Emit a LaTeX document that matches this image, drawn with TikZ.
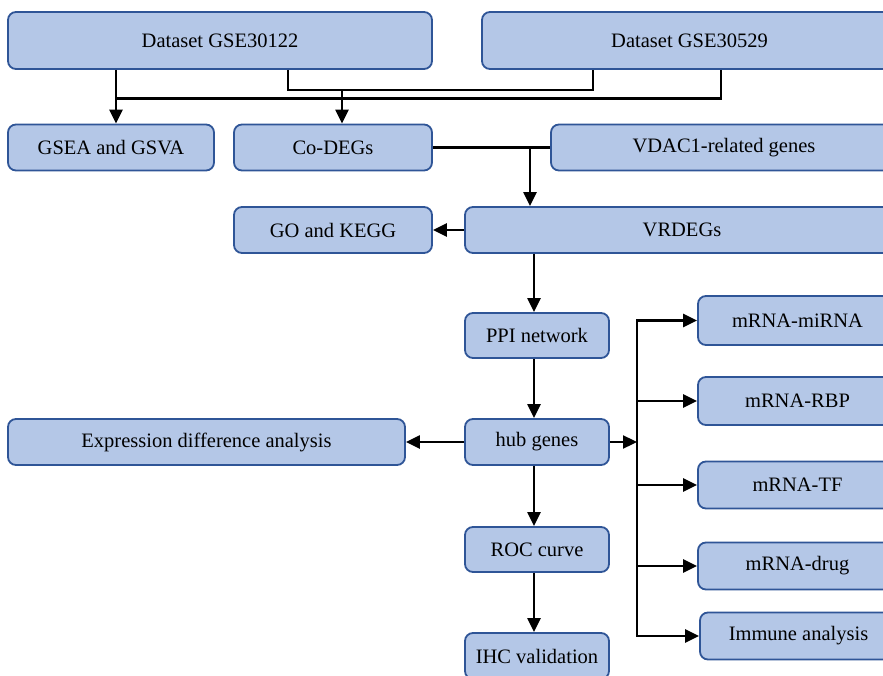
\documentclass[tikz,border=0pt]{standalone}
\usepackage{fontspec}
\setmainfont{Liberation Serif}
\usetikzlibrary{arrows.meta}
\definecolor{boxfill}{HTML}{B4C7E7}
\definecolor{boxdraw}{HTML}{2F5597}
\tikzset{
  box/.style={draw=boxdraw, fill=boxfill, rounded corners=8pt, line width=1.8pt,
    inner sep=0pt, font=\fontsize{20.5}{24}\selectfont, text=black},
  conn/.style={line width=2.3pt, black},
  arr/.style={conn, -{Triangle[length=14pt,width=13pt]}},
}
\begin{document}
\begin{tikzpicture}[x=1pt,y=-1pt]
\useasboundingbox (0,0) rectangle (883,676);
\clip (0,0) rectangle (883,676);
% nodes
\node[box, minimum width=424pt, minimum height=57pt] (g1) at (220,40.5) {Dataset GSE30122};
\node[box, minimum width=415pt, minimum height=57pt] (g2) at (689.5,40.5) {Dataset GSE30529};
\node[box, minimum width=206pt, minimum height=46pt] (gsea) at (111,147.5) {GSEA and GSVA};
\node[box, minimum width=198pt, minimum height=46pt] (codeg) at (333,147.5) {Co-DEGs};
\node[box, minimum width=346pt, minimum height=46pt] (vdac) at (724,147.5) {VDAC1-related genes};
\node[box, minimum width=198pt, minimum height=46pt] (go) at (333,230) {GO and KEGG};
\node[box, minimum width=434pt, minimum height=46pt] (vrdeg) at (682,230) {VRDEGs};
\node[box, minimum width=144pt, minimum height=45pt] (ppi) at (537,335.5) {PPI network};
\node[box, minimum width=144pt, minimum height=46pt] (hub) at (537,442) {hub genes};
\node[box, minimum width=397pt, minimum height=46pt] (expr) at (206.5,442) {Expression difference analysis};
\node[box, minimum width=144pt, minimum height=45pt] (roc) at (537,549.5) {ROC curve};
\node[box, minimum width=144pt, minimum height=46pt] (ihc) at (537,656) {IHC validation};
\node[box, minimum width=199pt, minimum height=49pt] (r1) at (797.5,320.5) {mRNA-miRNA};
\node[box, minimum width=199pt, minimum height=48pt] (r2) at (797.5,401) {mRNA-RBP};
\node[box, minimum width=199pt, minimum height=47pt] (r3) at (797.5,485) {mRNA-TF};
\node[box, minimum width=199pt, minimum height=47pt] (r4) at (797.5,566) {mRNA-drug};
\node[box, minimum width=197pt, minimum height=47pt] (r5) at (798.5,636) {Immune analysis};
% helper coordinates
\coordinate (xa) at (116,0);
\coordinate (xb) at (288,0);
\coordinate (yb) at (0,90);
\coordinate (xc) at (593,0);
\coordinate (xd) at (721,0);
\coordinate (yd) at (0,98.5);
\coordinate (xe) at (342,0);
\coordinate (xf) at (530,0);
\coordinate (xg) at (534,0);
\coordinate (xh) at (637,0);
% connectors
\draw[arr] (g1.south -| xa) -- (gsea.north -| xa);
\draw[conn] (g1.south -| xb) |- (yb -| xc) -- (g2.south -| xc);
\draw[conn] (g2.south -| xd) |- (yd -| xa);
\draw[arr] (yb -| xe) -- (codeg.north -| xe);
\draw[conn] (codeg.east) -- (vdac.west);
\draw[arr] (codeg.east -| xf) -- (vrdeg.north -| xf);
\draw[arr] (vrdeg.west) -- (go.east);
\draw[arr] (vrdeg.south -| xg) -- (ppi.north -| xg);
\draw[arr] (ppi.south -| xg) -- (hub.north -| xg);
\draw[arr] (hub.south -| xg) -- (roc.north -| xg);
\draw[arr] (roc.south -| xg) -- (ihc.north -| xg);
\draw[arr] (hub.west) -- (expr.east);
\draw[arr] (hub.east) -- (hub.east -| xh);
\draw[arr] (r5.west -| xh) -- (r1.west -| xh) -- (r1.west);
\draw[arr] (r1.west -| xh) |- (r5.west);
\foreach \r in {r2,r3,r4} {
  \draw[arr] (\r.west -| xh) -- (\r.west);
}
\end{tikzpicture}
\end{document}
